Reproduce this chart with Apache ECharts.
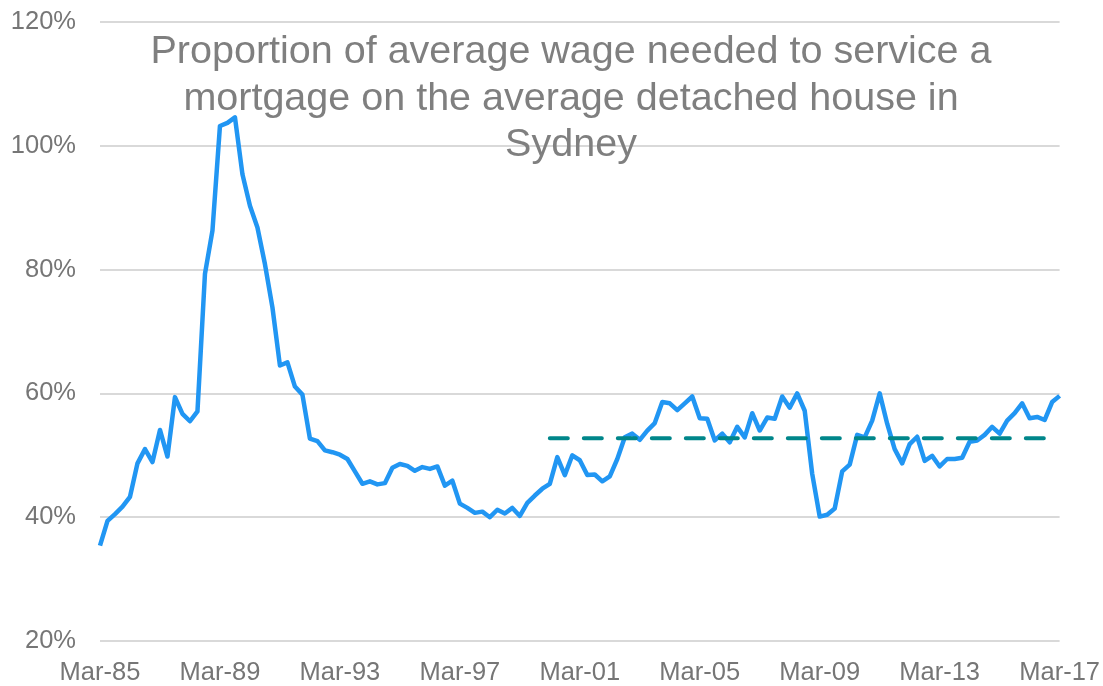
<!DOCTYPE html>
<html lang="en">
<head>
    <meta charset="UTF-8">
    <title>Sydney mortgage affordability</title>
    <script src="https://cdn.jsdelivr.net/npm/echarts@6/dist/echarts.min.js"></script>
    <style>
        html, body { margin: 0; padding: 0; background: #fff; }
    </style>
</head>
<body>
<div id="chart" style="width: 1103px; height: 686px;"></div>
<script>
  // quarterly, Mar-85 .. Mar-17
  var months = ['Mar', 'Jun', 'Sep', 'Dec'];
  var firstYear = 1985, lastYear = 2017;

  var quarters = [];
  for (var y = firstYear; y <= lastYear; y++) {
    for (var q = 0; q < 4; q++) {
      if (y === lastYear && q > 0) break;
      quarters.push(months[q] + '-' + String(y).slice(2));
    }
  }

  // % of average wage needed to service a mortgage
  var wageShare = [
    35.4, 39.4, 40.5, 41.7, 43.3, 48.7, 51.0, 48.9, 54.1, 49.8,
    59.4, 56.7, 55.5, 57.1, 79.3, 86.3, 103.2, 103.7, 104.6, 95.4,
    90.3, 86.8, 80.9, 73.9, 64.5, 65.0, 61.1, 59.8, 52.7, 52.3,
    50.8, 50.5, 50.1, 49.4, 47.4, 45.4, 45.8, 45.3, 45.5, 48.0,
    48.6, 48.3, 47.5, 48.1, 47.8, 48.2, 45.1, 45.9, 42.2, 41.5,
    40.7, 40.9, 40.0, 41.2, 40.6, 41.5, 40.2, 42.3, 43.5, 44.6,
    45.4, 49.7, 46.8, 50.0, 49.2, 46.8, 46.9, 45.8, 46.6, 49.4,
    52.9, 53.5, 52.5, 54.0, 55.2, 58.6, 58.4, 57.3, 58.4, 59.5,
    56.0, 55.9, 52.4, 53.5, 52.1, 54.6, 52.9, 56.8, 54.0, 56.1,
    55.9, 59.5, 57.7, 60.0, 57.2, 47.0, 40.1, 40.4, 41.4, 47.4,
    48.5, 53.3, 52.9, 55.6, 60.0, 55.1, 51.0, 48.7, 51.8, 53.0,
    49.1, 49.9, 48.2, 49.4, 49.4, 49.6, 52.2, 52.4, 53.3, 54.6,
    53.5, 55.6, 56.8, 58.4, 56.0, 56.2, 55.7, 58.6, 59.6
  ];

  // average level drawn from Mar-00 onwards
  var avgStart = 'Mar-00';
  var avgValue = 52.75;

  var avgLine = quarters.map(function (name, i) {
    return i >= quarters.indexOf(avgStart) ? avgValue : null;
  });

  var yTicks = { min: 20, max: 120, interval: 20 };

  var grey = '#767676';
  var font = '"Liberation Sans", Arial, sans-serif';

  var chart = echarts.init(document.getElementById('chart'));

  chart.setOption({
    animation: false,
    backgroundColor: '#fff',
    title: {
      text: 'Proportion of average wage needed to service a\nmortgage on the average detached house in\nSydney',
      left: 566,
      top: 24,
      textAlign: 'center',
      textStyle: {
        color: '#7f7f7f',
        fontFamily: font,
        fontWeight: 'normal',
        fontSize: 39.5,
        lineHeight: 46.5
      }
    },
    grid: {
      left: 100,
      right: 40,
      top: 22,
      bottom: 45
    },
    xAxis: {
      type: 'category',
      data: quarters,
      boundaryGap: false,
      axisLine: { show: false },
      axisTick: { show: false },
      axisLabel: {
        interval: 15,
        margin: 19,
        color: grey,
        fontFamily: font,
        fontSize: 25.5
      },
      splitLine: { show: false }
    },
    yAxis: {
      type: 'value',
      min: yTicks.min,
      max: yTicks.max,
      interval: yTicks.interval,
      axisLine: { show: false },
      axisTick: { show: false },
      axisLabel: {
        formatter: '{value}%',
        margin: 24,
        color: grey,
        fontFamily: font,
        fontSize: 25.5
      },
      splitLine: { lineStyle: { color: '#d9d9d9', width: 2 } }
    },
    series: [
      {
        name: 'Share of wage',
        type: 'line',
        data: wageShare,
        symbol: 'none',
        lineStyle: { color: '#2196f3', width: 4.5, join: 'round' }
      },
      {
        name: 'Average',
        type: 'line',
        data: avgLine,
        symbol: 'none',
        lineStyle: {
          color: '#00868a',
          width: 4,
          type: [18, 16],
          cap: 'round'
        }
      }
    ]
  });
</script>
</body>
</html>
